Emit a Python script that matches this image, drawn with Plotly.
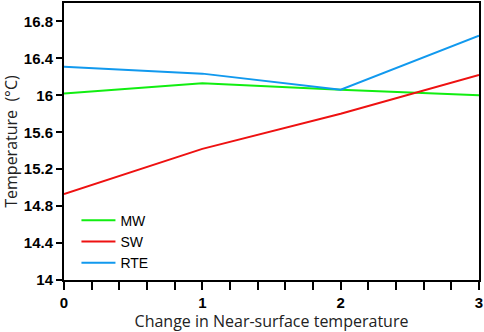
import plotly.graph_objects as go

x_vals = [0, 1, 2, 3]
mw = [16.02, 16.13, 16.06, 16.00]
sw = [14.93, 15.42, 15.80, 16.22]
rte = [16.31, 16.235, 16.06, 16.645]
y_ticks = [14, 14.4, 14.8, 15.2, 15.6, 16, 16.4, 16.8]
y_tick_labels = ["14", "14.4", "14.8", "15.2", "15.6", "16", "16.4", "16.8"]

fig = go.Figure()
fig.add_trace(go.Scatter(x=x_vals, y=mw, mode="lines", name="MW", line=dict(color="#11ee11", width=2)))
fig.add_trace(go.Scatter(x=x_vals, y=sw, mode="lines", name="SW", line=dict(color="#ee1111", width=2)))
fig.add_trace(go.Scatter(x=x_vals, y=rte, mode="lines", name="RTE", line=dict(color="#1199ee", width=2)))

fig.update_layout(
    width=484, height=332,
    margin=dict(l=64, r=5, t=3, b=52),
    plot_bgcolor="white", paper_bgcolor="white",
    showlegend=True,
    legend=dict(x=0.03, y=0.272, xanchor="left", yanchor="top",
                font=dict(family="Arial", size=14, color="black"),
                bgcolor="rgba(0,0,0,0)", tracegroupgap=0, itemwidth=34),
    xaxis=dict(range=[0, 3], tickmode="array", tickvals=[0, 1, 2, 3],
               ticktext=["<b>0</b>", "<b>1</b>", "<b>2</b>", "<b>3</b>"],
               ticks="outside", ticklen=8, tickwidth=2, tickcolor="black",
               minor=dict(dtick=0.2, ticks="outside", ticklen=8, tickwidth=2, tickcolor="black", showgrid=False),
               showline=True, linecolor="black", linewidth=2, mirror=True,
               showgrid=False, zeroline=False, automargin=False,
               tickfont=dict(family="Arial", size=15, color="black"),
               title=dict(text="Change in Near-surface temperature",
                          font=dict(family="Open Sans", size=16, color="#222"), standoff=6)),
    yaxis=dict(range=[14, 17], tickmode="array", tickvals=y_ticks,
               ticktext=["<b>%s</b>" % t for t in y_tick_labels],
               ticks="outside", ticklen=6, tickwidth=2, tickcolor="black",
               showline=True, linecolor="black", linewidth=2, mirror=True,
               showgrid=False, zeroline=False, automargin=False,
               tickfont=dict(family="Arial", size=15, color="black"),
               title=dict(text="Temperature\u00a0\u00a0(°C)",
                          font=dict(family="Open Sans", size=16, color="#222"), standoff=2)),
)

fig.write_html("out.html", config={"displayModeBar": False},
               post_script="document.body.style.margin='0';document.body.style.overflow='hidden';")
